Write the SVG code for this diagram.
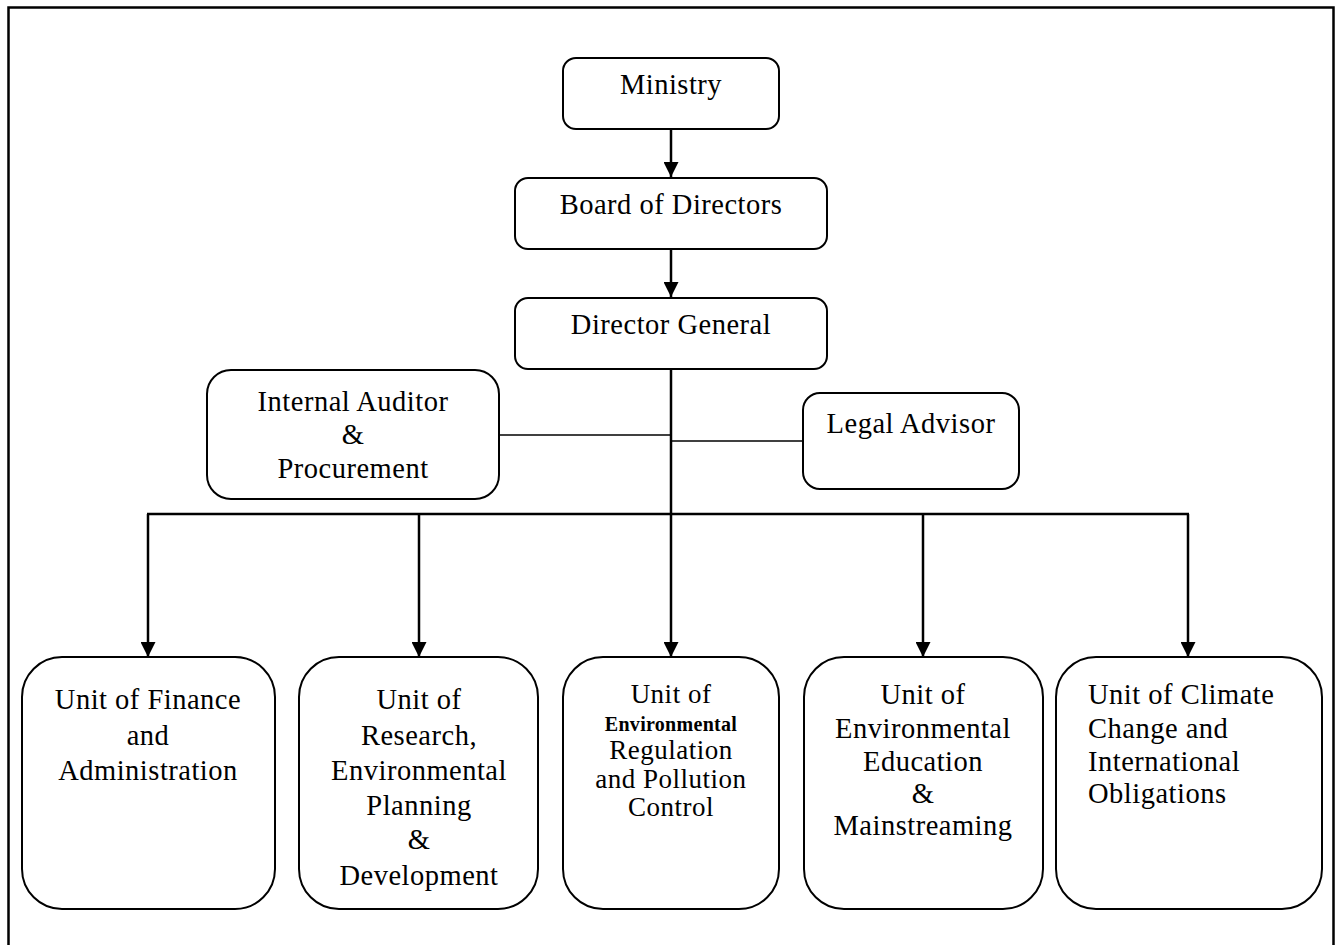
<svg xmlns="http://www.w3.org/2000/svg" width="1341" height="945" viewBox="0 0 1341 945">
<style>
.box{fill:#fff;stroke:#000;stroke-width:2}
text{font-family:"Liberation Serif","DejaVu Serif","Times New Roman",Times,serif;font-size:28.5px;letter-spacing:0.5px;fill:#000;text-anchor:middle}
.tl{text-anchor:start}
.s{font-size:27px}
.b{font-weight:bold;font-size:20px;letter-spacing:0.3px}
.c{stroke:#000;stroke-width:2.5;fill:none}
.thin{stroke:#000;stroke-width:1.6;fill:none}
</style>
<defs>
<marker id="ah" viewBox="0 0 15 15" refX="15" refY="7.5" markerWidth="15" markerHeight="15" markerUnits="userSpaceOnUse" orient="auto">
<path d="M0,0 L15,7.5 L0,15 z" fill="#000"/>
</marker>
</defs>
<rect width="1341" height="945" fill="#fff"/>
<path d="M8.5,950 L8.5,7.5 L1333.5,7.5 L1333.5,950" fill="none" stroke="#000" stroke-width="2.5"/>

<g id="connectors">
<line class="c" x1="671" y1="129" x2="671" y2="177" marker-end="url(#ah)"/>
<line class="c" x1="671" y1="249" x2="671" y2="297" marker-end="url(#ah)"/>
<line class="c" x1="671" y1="369" x2="671" y2="515"/>
<line class="thin" x1="499" y1="435" x2="671" y2="435"/>
<line class="thin" x1="671" y1="441" x2="803" y2="441"/>
<line class="c" x1="147" y1="514" x2="1189" y2="514"/>
<line class="c" x1="148" y1="514" x2="148" y2="657" marker-end="url(#ah)"/>
<line class="c" x1="419" y1="514" x2="419" y2="657" marker-end="url(#ah)"/>
<line class="c" x1="671" y1="514" x2="671" y2="657" marker-end="url(#ah)"/>
<line class="c" x1="923" y1="514" x2="923" y2="657" marker-end="url(#ah)"/>
<line class="c" x1="1188" y1="514" x2="1188" y2="657" marker-end="url(#ah)"/>
</g>

<g id="ministry">
<rect class="box" x="563" y="58" width="216" height="71" rx="13"/>
<text x="671" y="94">Ministry</text>
</g>
<g id="board">
<rect class="box" x="515" y="178" width="312" height="71" rx="13"/>
<text x="671" y="214">Board of Directors</text>
</g>
<g id="dg">
<rect class="box" x="515" y="298" width="312" height="71" rx="13"/>
<text x="671" y="334">Director General</text>
</g>
<g id="auditor">
<rect class="box" x="207" y="370" width="292" height="129" rx="24"/>
<text x="353" y="411">Internal Auditor</text>
<text x="353" y="444">&amp;</text>
<text x="353" y="478">Procurement</text>
</g>
<g id="legal">
<rect class="box" x="803" y="393" width="216" height="96" rx="17"/>
<text x="911" y="433">Legal Advisor</text>
</g>

<g id="finance">
<rect class="box" x="22" y="657" width="253" height="252" rx="40"/>
<text x="148" y="709">Unit of Finance</text>
<text x="148" y="745">and</text>
<text x="148" y="780">Administration</text>
</g>
<g id="research">
<rect class="box" x="299" y="657" width="239" height="252" rx="40"/>
<text x="419" y="709">Unit of</text>
<text x="419" y="745">Research,</text>
<text x="419" y="780">Environmental</text>
<text x="419" y="815">Planning</text>
<text x="419" y="849">&amp;</text>
<text x="419" y="885">Development</text>
</g>
<g id="regulation">
<rect class="box" x="563" y="657" width="216" height="252" rx="40"/>
<text class="s" x="671" y="703">Unit of</text>
<text class="b" x="671" y="731">Environmental</text>
<text class="s" x="671" y="759">Regulation</text>
<text class="s" x="671" y="788">and Pollution</text>
<text class="s" x="671" y="816">Control</text>
</g>
<g id="education">
<rect class="box" x="804" y="657" width="239" height="252" rx="40"/>
<text x="923" y="704">Unit of</text>
<text x="923" y="738">Environmental</text>
<text x="923" y="771">Education</text>
<text x="923" y="803">&amp;</text>
<text x="923" y="835">Mainstreaming</text>
</g>
<g id="climate">
<rect class="box" x="1056" y="657" width="266" height="252" rx="40"/>
<text class="tl" x="1088" y="704">Unit of Climate</text>
<text class="tl" x="1088" y="738">Change and</text>
<text class="tl" x="1088" y="771">International</text>
<text class="tl" x="1088" y="803">Obligations</text>
</g>
</svg>
